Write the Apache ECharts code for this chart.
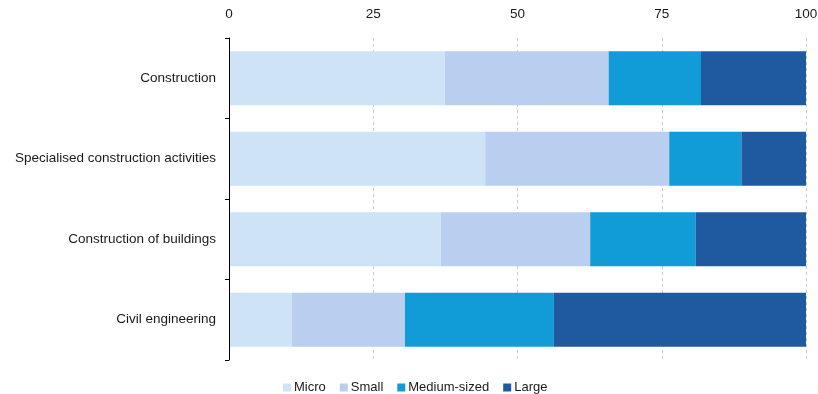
<!DOCTYPE html>
<html>
<head>
<meta charset="utf-8">
<script src="https://cdn.jsdelivr.net/npm/echarts@6/dist/echarts.min.js"></script>
<style>
  html, body { margin: 0; padding: 0; background: #fff; }
  #chart { width: 818px; height: 394px; }
</style>
</head>
<body>
<div id="chart"></div>
<script>
// Share of value added by enterprise size class (%)
const categories = [
  'Construction',
  'Specialised construction activities',
  'Construction of buildings',
  'Civil engineering'
];
const micro = [37.4, 44.4, 36.7, 10.9];
const small = [28.4, 31.9, 25.9, 19.6];
const medium = [16.0, 12.5, 18.3, 25.8];
const large = [18.2, 11.2, 19.1, 43.7];
const sizeNames = ['Micro', 'Small', 'Medium-sized', 'Large'];
const xTicks = [0, 25, 50, 75, 100];

const colors = ['#cfe3f7', '#bacff0', '#119bd7', '#1f5aa0'];
const seriesValues = [micro, small, medium, large];
const font = 'Liberation Sans, Arial, sans-serif';
const textColor = '#1a1a1a';

const chart = echarts.init(document.getElementById('chart'), null, { renderer: 'canvas' });

chart.setOption({
  animation: false,
  color: colors,
  grid: { left: 229, right: 12, top: 38, bottom: 34, outerBoundsMode: 'none' },
  legend: {
    bottom: -5,
    left: 278,
    itemWidth: 8,
    itemHeight: 8,
    itemGap: 14,
    icon: 'rect',
    textStyle: { fontFamily: font, fontSize: 13, color: textColor, padding: [0, 0, 0, -2] },
    data: sizeNames
  },
  xAxis: {
    type: 'value',
    position: 'top',
    min: xTicks[0],
    max: xTicks[xTicks.length - 1],
    interval: xTicks[1] - xTicks[0],
    axisLine: { show: false },
    axisTick: { show: false },
    axisLabel: { fontFamily: font, fontSize: 13.5, color: textColor, margin: 17 },
    splitLine: { show: true, lineStyle: { color: '#c8c8c8', type: [3, 3], width: 1 } }
  },
  yAxis: {
    type: 'category',
    inverse: true,
    data: categories,
    z: 5,
    axisLine: { show: true, lineStyle: { color: '#000', width: 1 } },
    axisTick: { show: true, length: 4, lineStyle: { color: '#000' } },
    axisLabel: { fontFamily: font, fontSize: 13.5, color: textColor, margin: 13 }
  },
  series: sizeNames.map((name, i) => ({
    name: name,
    type: 'bar',
    stack: 'total',
    barCategoryGap: '33%',
    data: seriesValues[i],
    itemStyle: { color: colors[i] }
  }))
});
</script>
</body>
</html>
